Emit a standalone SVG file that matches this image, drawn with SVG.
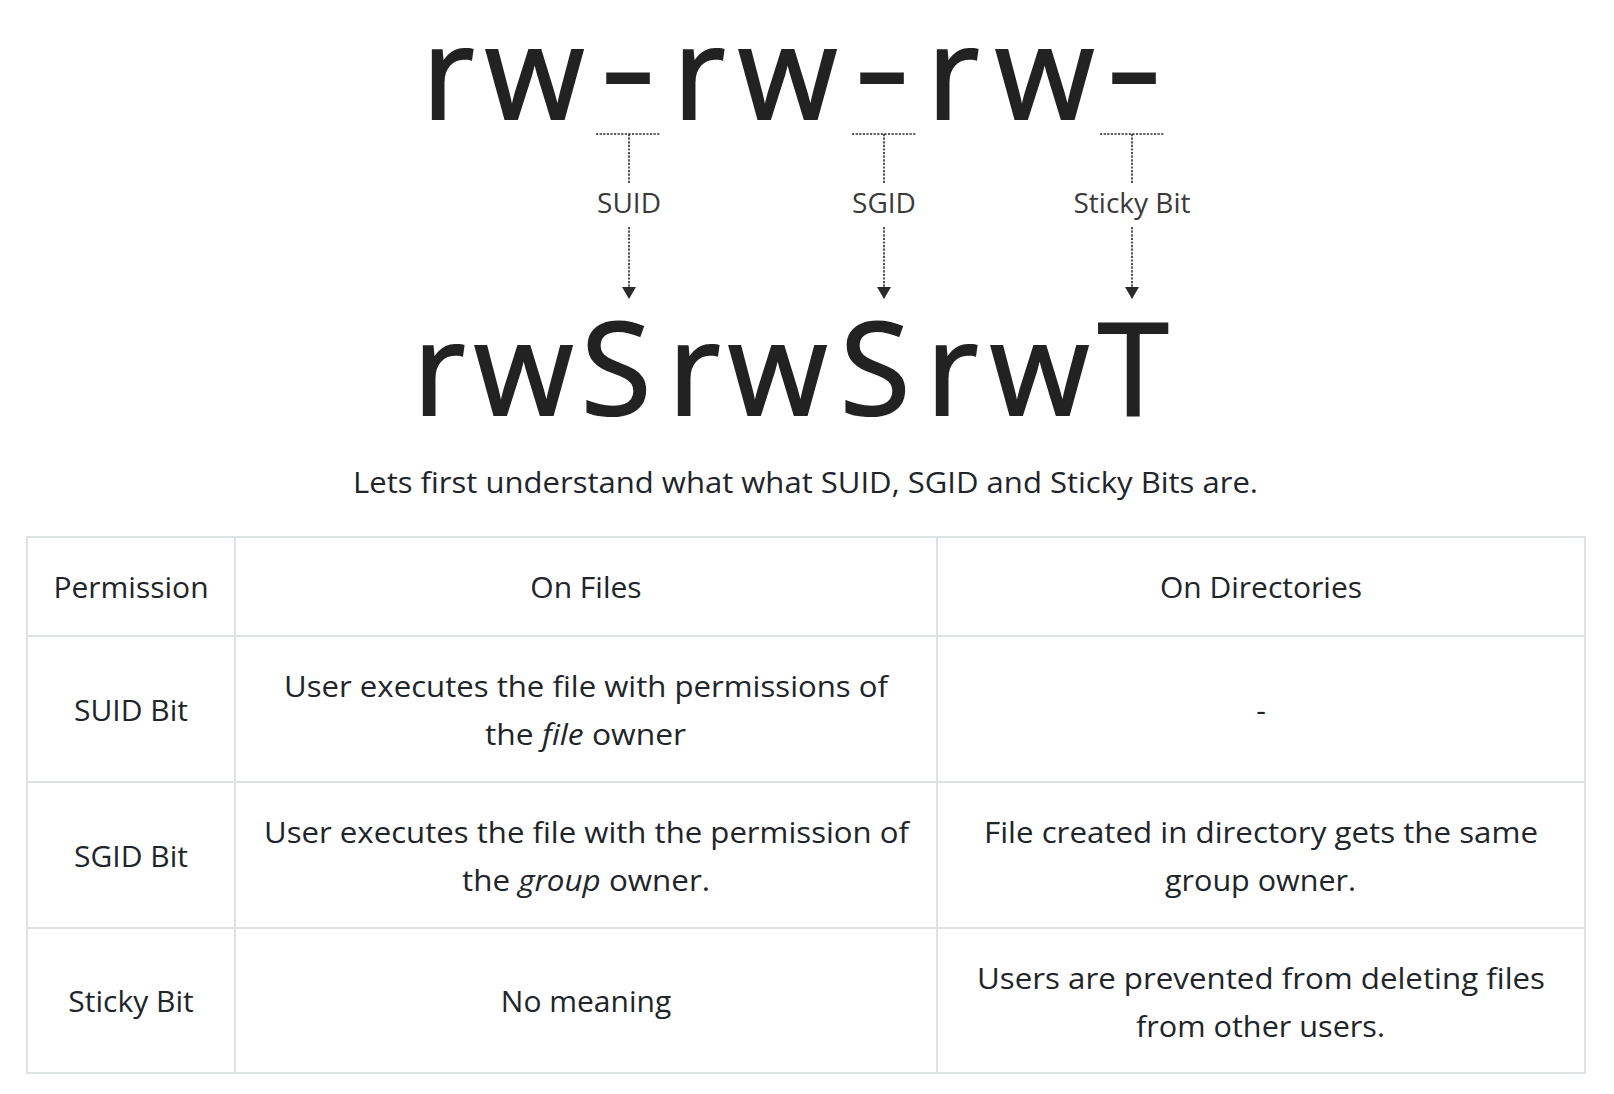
<svg xmlns="http://www.w3.org/2000/svg" width="1614" height="1094" viewBox="0 0 1614 1094">
<style>
.big{font-family:"Open Sans","Noto Sans",sans-serif;font-weight:400;font-size:128px;fill:#222;stroke:#222;stroke-width:2.2}
.lbl{font-family:"Open Sans","Noto Sans",sans-serif;font-size:28px;fill:#3a3a3a;text-anchor:middle}
.t{font-family:"Open Sans","Noto Sans",sans-serif;font-size:30px;fill:#212529}
.c{text-anchor:middle}
.dot{stroke:#2a2a2a;stroke-width:1.6;stroke-dasharray:2.2 1.4;fill:none}
.grid{stroke:#dfe2e5;stroke-width:2;fill:none}
.it{font-style:italic}
</style>
<defs>
<marker id="ah" markerUnits="userSpaceOnUse" markerWidth="14" markerHeight="14" refX="12" refY="7" orient="auto">
<path d="M0,0 L12,7 L0,14 z" fill="#2a2a2a"/>
</marker>
</defs>
<rect width="1614" height="1094" fill="#fff"/>
<g id="before">
<text class="big" x="422 485" y="119">rw</text>
<text class="big" x="601" y="113" textLength="54" lengthAdjust="spacingAndGlyphs">-</text>
<text class="big" x="673 738" y="119">rw</text>
<text class="big" x="855" y="113" textLength="54" lengthAdjust="spacingAndGlyphs">-</text>
<text class="big" x="927 995" y="119">rw</text>
<text class="big" x="1107" y="113" textLength="54" lengthAdjust="spacingAndGlyphs">-</text>
</g>
<g id="after">
<text class="big" x="413 474 581 668 728 840 926 990 1098" y="415">rwSrwSrwT</text>
</g>
<g id="connectors">
<path class="dot" d="M596,134 H660 M629,134 V183"/>
<path class="dot" d="M629,227 V299" marker-end="url(#ah)"/>
<path class="dot" d="M852,134 H916 M884,134 V183"/>
<path class="dot" d="M884,227 V299" marker-end="url(#ah)"/>
<path class="dot" d="M1100,134 H1164 M1132,134 V183"/>
<path class="dot" d="M1132,227 V299" marker-end="url(#ah)"/>
</g>
<g id="labels">
<text class="lbl" x="629" y="213">SUID</text>
<text class="lbl" x="884" y="213">SGID</text>
<text class="lbl" x="1132" y="213">Sticky Bit</text>
</g>
<g id="caption">
<text class="t" x="353" y="493" textLength="905" lengthAdjust="spacingAndGlyphs">Lets first understand what what SUID, SGID and Sticky Bits are.</text>
</g>
<g id="table">
<rect class="grid" x="27" y="537" width="1558" height="536"/>
<path class="grid" d="M235,537 V1073 M937,537 V1073 M27,636 H1585 M27,782 H1585 M27,928 H1585"/>
</g>
<g id="header">
<text class="t c" x="131" y="598">Permission</text>
<text class="t c" x="586" y="598">On Files</text>
<text class="t c" x="1261" y="598">On Directories</text>
</g>
<g id="row-suid">
<text class="t c" x="131" y="721">SUID Bit</text>
<text class="t" x="284" y="697" textLength="604" lengthAdjust="spacingAndGlyphs">User executes the file with permissions of</text>
<text class="t" x="485" y="745" textLength="201" lengthAdjust="spacingAndGlyphs">the <tspan class="it">file</tspan> owner</text>
<text class="t c" x="1261" y="721">-</text>
</g>
<g id="row-sgid">
<text class="t c" x="131" y="867">SGID Bit</text>
<text class="t" x="264" y="843" textLength="645" lengthAdjust="spacingAndGlyphs">User executes the file with the permission of</text>
<text class="t" x="462" y="891" textLength="248" lengthAdjust="spacingAndGlyphs">the <tspan class="it">group</tspan> owner.</text>
<text class="t" x="984" y="843" textLength="554" lengthAdjust="spacingAndGlyphs">File created in directory gets the same</text>
<text class="t" x="1165" y="891" textLength="191" lengthAdjust="spacingAndGlyphs">group owner.</text>
</g>
<g id="row-sticky">
<text class="t c" x="131" y="1012">Sticky Bit</text>
<text class="t c" x="586" y="1012">No meaning</text>
<text class="t" x="977" y="989" textLength="568" lengthAdjust="spacingAndGlyphs">Users are prevented from deleting files</text>
<text class="t" x="1136" y="1037" textLength="249" lengthAdjust="spacingAndGlyphs">from other users.</text>
</g>
</svg>
